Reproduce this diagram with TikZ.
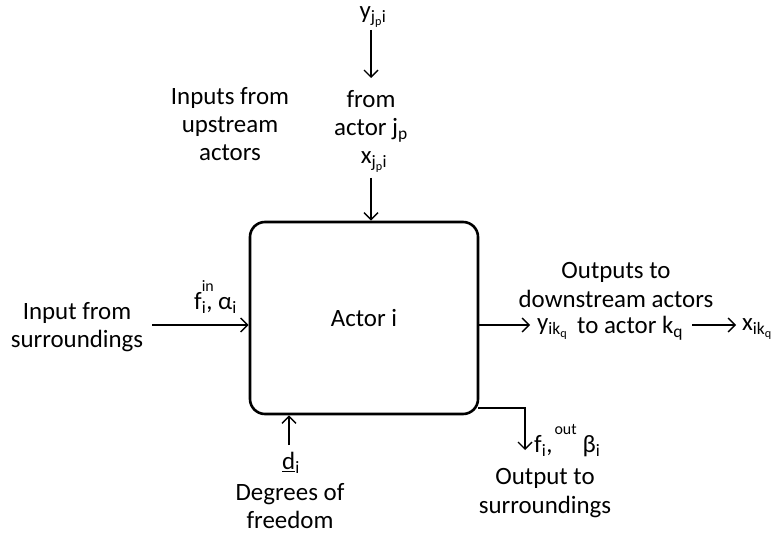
\documentclass[tikz,border=0pt]{standalone}
\usepackage{fontspec}
\setmainfont{Carlito}
\usetikzlibrary{arrows.meta}
\newcommand{\sbs}[1]{\textsubscript{#1}}
\newcommand{\hisup}[1]{\raisebox{0.72em}{\fontsize{16}{16}\selectfont #1}}
\begin{document}
\begin{tikzpicture}[x=1bp,y=-1bp,
  font=\fontsize{25}{28.5}\selectfont,
  arr/.style={-{Straight Barb[length=7bp,width=14bp]}, line width=1.4bp},
  txt/.style={align=center, inner sep=0pt}]
\useasboundingbox (0,0) rectangle (774,536);
% main box
\node[draw, line width=2.6bp, rounded corners=15bp, minimum width=228bp,
      minimum height=192bp] (actor) at (364,318) {Actor i};
% top
\node[txt] (yj) at (373,17) {y\sbs{j\sbs{p}i}};
\node[txt] (from) at (371,116) {from\\actor j\sbs{p}};
\node[txt] (xj) at (374,162) {x\sbs{j\sbs{p}i}};
\coordinate (t1) at (371,30);
\coordinate (t2) at (371,78);
\coordinate (t3) at (371,178);
\draw[arr] (t1) -- (t2);
\draw[arr] (t3) -- (t3 |- actor.north);
\node[txt] (ups) at (230,124) {Inputs from\\upstream\\actors};
% left
\node[txt] (insur) at (77,327) {Input from\\surroundings};
\coordinate (l1) at (152,325);
\draw[arr] (l1) -- (l1 -| actor.west);
\node[txt, anchor=west] (fin) at (194,297) {f\rlap{\hisup{in}}\sbs{i}, α\sbs{i}};
% right
\node[txt] (downs) at (616,285) {Outputs to\\downstream actors};
\coordinate (r1) at (530,325);
\draw[arr] (r1 -| actor.east) -- (r1);
\node[txt, anchor=west] (yik) at (537,329) {y\sbs{ik\sbs{q}}};
\node[txt, anchor=west] (toact) at (577,328) {to actor k\sbs{q}};
\coordinate (r2) at (692,325);
\coordinate (r3) at (736,325);
\draw[arr] (r2) -- (r3);
\node[txt, anchor=west] (xik) at (742,329) {x\sbs{ik\sbs{q}}};
% bottom right
\coordinate (b1) at (478,408);
\coordinate (b2) at (525,408);
\coordinate (b3) at (525,450);
\draw[arr] (b1) -- (b2) -- (b3);
\node[txt, anchor=west] (fout) at (534,441) {f\sbs{i},\kern2bp\hisup{out}\kern6bp β\sbs{i}};
\node[txt] (outsur) at (545,493) {Output to\\surroundings};
% bottom
\coordinate (d1) at (289,445);
\draw[arr] (d1) -- (d1 |- actor.south);
\node[txt] (di) at (291,463) {\underline{d}\sbs{i}};
\node[txt] (dof) at (290,506) {Degrees of\\freedom};
\end{tikzpicture}
\end{document}
